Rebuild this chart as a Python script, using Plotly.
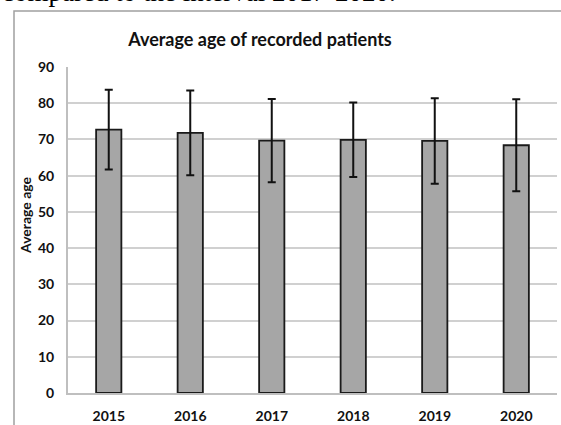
import plotly.graph_objects as go

years = ["2015", "2016", "2017", "2018", "2019", "2020"]
mean_age = [72.7, 71.8, 69.7, 69.9, 69.6, 68.4]
sd_age = [11.0, 11.7, 11.5, 10.3, 11.8, 12.7]
y_ticks = [0, 10, 20, 30, 40, 50, 60, 70, 80, 90]

W, H = 561, 425
L, R, T, B = 68, 4, 67, 32
PW, PH = W - L - R, H - T - B

fig = go.Figure()
fig.add_trace(go.Bar(
    x=years, y=mean_age,
    marker=dict(color="#a6a6a6", line=dict(color="#1a1a1a", width=1.8)),
    error_y=dict(type="data", array=sd_age, visible=True, color="#111111",
                 thickness=2, width=4),
    width=0.31,
))

fig.update_layout(
    width=W, height=H,
    margin=dict(l=L, r=R, t=T, b=B, autoexpand=False),
    paper_bgcolor="white", plot_bgcolor="white",
    showlegend=False,
    font=dict(family="Lato", color="#111111"),
    title=dict(text="<b>Average age of recorded patients</b>",
               x=260 / W, xanchor="center", y=1 - 40 / H, yanchor="middle",
               font=dict(family="Lato", size=18, color="#111111")),
    xaxis=dict(showline=True, linecolor="#bfbfbf", linewidth=2,
               tickfont=dict(family="Lato", size=14, color="#111111", weight="bold"),
               ticks="", ticklabelstandoff=9, automargin=False),
    yaxis=dict(range=[0, 90], tickvals=y_ticks, showgrid=True,
               gridcolor="#d0d0d0", gridwidth=1.5,
               showline=True, linecolor="#bfbfbf", linewidth=2,
               zeroline=False, ticks="", ticklabelstandoff=9, automargin=False,
               tickfont=dict(family="Lato", size=14, color="#111111", weight="bold")),
)

# y-axis title
fig.add_annotation(text="<b>Average age</b>", textangle=-90,
                   xref="paper", yref="paper",
                   x=(25 - L) / PW, xanchor="center",
                   y=1 - (215 - T) / PH, yanchor="middle",
                   showarrow=False,
                   font=dict(family="Lato", size=14, color="#111111"))

# outer chart frame
fig.add_shape(type="rect", xref="paper", yref="paper",
              x0=(14 - L) / PW, x1=(W + 5 - L) / PW,
              y0=-(B + 10) / PH, y1=1 + (T - 11) / PH,
              line=dict(color="#a0a0a0", width=1.5), layer="below")

# cut-off document text above the chart
fig.add_annotation(text="compared to the interval 2017-2020.",
                   xref="paper", yref="paper",
                   x=(0 - L) / PW, xanchor="left",
                   y=1 + (T - 9) / PH, yanchor="bottom",
                   showarrow=False,
                   font=dict(family="Liberation Serif", size=27, color="#000000"))

fig.write_html("out.html", config={"displayModeBar": False},
               post_script="document.body.style.margin='0';document.body.style.overflow='hidden';")
